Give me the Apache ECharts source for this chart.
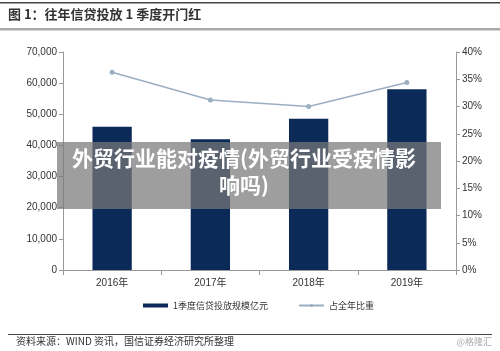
<!DOCTYPE html>
<html>
<head>
<meta charset="utf-8">
<script src="https://cdn.jsdelivr.net/npm/echarts@6/dist/echarts.min.js"></script>
<style>
  html, body { margin: 0; padding: 0; background: #fff; }
  #chart { width: 500px; height: 351px; }
</style>
</head>
<body>
<div id="chart"></div>
<script>
const years = ['2016年', '2017年', '2018年', '2019年'];
const loans = [46000, 42000, 48600, 58000];
const shares = [36.3, 31.2, 30.0, 34.4];
const barName = '1季度信贷投放规模亿元';
const lineName = '占全年比重';

const chart = echarts.init(document.getElementById('chart'));
const font = '"Liberation Sans", Arial, "Noto Sans CJK SC", sans-serif';
const cjk = '"Noto Sans CJK SC", sans-serif';

const option = {
  backgroundColor: '#fff',
  animation: false,
  textStyle: { fontFamily: font },
  grid: { left: 63, right: 44, top: 52, bottom: 81 },
  legend: {
    bottom: 36,
    left: 138,
    itemGap: 30,
    textStyle: { fontSize: 9, color: '#333', fontFamily: cjk },
    data: [
      { name: barName, icon: 'rect', itemStyle: { color: '#0c2a57' } },
      { name: lineName }
    ],
    itemWidth: 25,
    itemHeight: 4
  },
  xAxis: {
    type: 'category',
    data: years,
    axisLine: { lineStyle: { color: '#999' } },
    axisTick: { show: true, lineStyle: { color: '#999' } },
    axisLabel: { color: '#333', fontSize: 10, margin: 8 }
  },
  yAxis: [
    {
      type: 'value', min: 0, max: 70000, interval: 10000,
      axisLine: { show: true, lineStyle: { color: '#999' } },
      axisTick: { show: true, length: 4, lineStyle: { color: '#999' } },
      axisLabel: {
        color: '#333', fontSize: 10, margin: 6,
        formatter: v => v.toLocaleString('en-US')
      },
      splitLine: { show: false }
    },
    {
      type: 'value', min: 0, max: 40, interval: 5,
      axisLine: { show: true, lineStyle: { color: '#999' } },
      axisTick: { show: true, length: 4, lineStyle: { color: '#999' } },
      axisLabel: { color: '#333', fontSize: 10, margin: 6, formatter: '{value}%' },
      splitLine: { show: false }
    }
  ],
  series: [
    {
      name: barName,
      type: 'bar',
      data: loans,
      barWidth: '40%',
      itemStyle: { color: '#0c2a57' }
    },
    {
      name: lineName,
      type: 'line',
      yAxisIndex: 1,
      data: shares,
      symbol: 'circle',
      symbolSize: 5,
      lineStyle: { color: '#9caec2', width: 1.5 },
      itemStyle: { color: '#9caec2' }
    }
  ],
  graphic: [
    { type: 'rect', shape: { x: 0, y: 2, width: 500, height: 1.5 }, style: { fill: '#444' } },
    {
      type: 'text', left: 8, top: 8,
      style: { text: '图 1：往年信贷投放 1 季度开门红', fontSize: 13, fontWeight: 'bold', fill: '#333', fontFamily: cjk }
    },
    { type: 'rect', shape: { x: 0, y: 28, width: 500, height: 2.5 }, style: { fill: '#aaa' } },
    { type: 'rect', shape: { x: 8, y: 334, width: 484, height: 1 }, style: { fill: '#444' } },
    {
      type: 'text', left: 16, top: 336,
      style: { text: '资料来源：WIND 资讯，国信证券经济研究所整理', fontSize: 10, fill: '#333', fontFamily: cjk }
    },
    {
      type: 'text', right: 8, top: 337,
      style: { text: '@格隆汇', fontSize: 9, fill: '#aaa', fontFamily: cjk }
    },
    {
      type: 'rect', z: 100,
      shape: { x: 57, y: 142, width: 384, height: 67 },
      style: { fill: 'rgba(120,120,120,0.72)' }
    },
    {
      type: 'text', z: 101, x: 244, y: 145,
      style: {
        text: '外贸行业能对疫情(外贸行业受疫情影\n响吗)',
        fontSize: 21, fontWeight: 'bold', fill: '#fff', fontFamily: cjk,
        align: 'center', lineHeight: 27
      }
    }
  ]
};

chart.setOption(option);
</script>
</body>
</html>
